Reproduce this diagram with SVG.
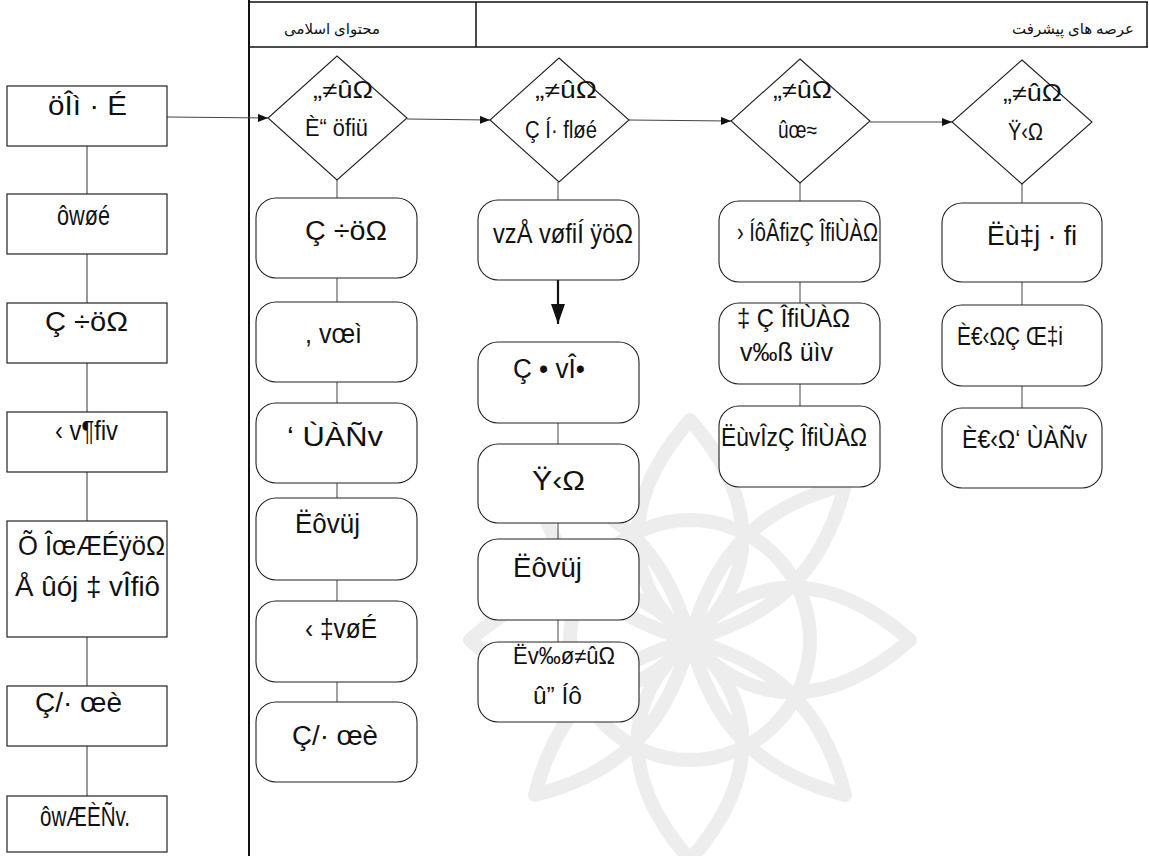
<svg xmlns="http://www.w3.org/2000/svg" width="1149" height="856" viewBox="0 0 1149 856">
<style>
.box{fill:#fff;stroke:#222;stroke-width:1.2}
.rbox{fill:#fff;stroke:#222;stroke-width:1.1}
.dia{fill:#fff;stroke:#222;stroke-width:1.1}
.t{font-family:"Liberation Sans",Arial,sans-serif;font-size:27px;fill:#111}
.tm{font-family:"Liberation Sans",Arial,sans-serif;font-size:25px;fill:#111}
.td{font-family:"Liberation Sans",Arial,sans-serif;font-size:23px;fill:#111}
.h{font-family:"Liberation Serif","DejaVu Sans",serif;font-size:15px;fill:#111}
.c{stroke:#777;stroke-width:1.5;fill:none}
.ct{stroke:#444;stroke-width:1;fill:none}
.wm{stroke:#ececec;stroke-width:14;fill:none;stroke-linecap:round}
</style>
<defs>
<marker id="ah" markerWidth="10" markerHeight="8" refX="10" refY="4" orient="auto" markerUnits="userSpaceOnUse">
<path d="M0,0 L10,4 L0,8 Z" fill="#111"/>
</marker>
<marker id="ahb" markerWidth="14" markerHeight="20" refX="7" refY="20" orient="0" markerUnits="userSpaceOnUse">
<path d="M0,0 L14,0 L7,20 Z" fill="#111"/>
</marker>
</defs>
<rect width="1149" height="856" fill="#fff"/>
<g id="watermark" opacity="0.9">
<path class="wm" d="M690,420 C620,500 620,580 690,640 C760,580 760,500 690,420"/>
<path class="wm" d="M690,860 C620,780 620,700 690,640 C760,700 760,780 690,860"/>
<path class="wm" d="M470,640 C550,570 630,570 690,640 C630,710 550,710 470,640"/>
<path class="wm" d="M910,640 C830,570 750,570 690,640 C750,710 830,710 910,640"/>
<path class="wm" d="M535,485 C560,585 620,620 690,640 C670,570 635,510 535,485"/>
<path class="wm" d="M845,485 C820,585 760,620 690,640 C710,570 745,510 845,485"/>
<path class="wm" d="M535,795 C560,695 620,660 690,640 C670,710 635,770 535,795"/>
<path class="wm" d="M845,795 C820,695 760,660 690,640 C710,710 745,770 845,795"/>
<circle class="wm" cx="690" cy="640" r="120" stroke-width="10"/>
</g>
<g id="header">
<line x1="249" y1="2" x2="1148" y2="2" stroke="#111" stroke-width="1.5"/>
<line x1="249" y1="47" x2="1148" y2="47" stroke="#111" stroke-width="1.5"/>
<line x1="476" y1="2" x2="476" y2="47" stroke="#111" stroke-width="1.5"/>
<line x1="1147" y1="2" x2="1147" y2="47" stroke="#111" stroke-width="1.5"/>
<line x1="249" y1="0" x2="249" y2="856" stroke="#111" stroke-width="2"/>
<text class="h" x="332" y="34" text-anchor="middle">محتوای اسلامی</text>
<text class="h" x="1134" y="34" text-anchor="end">عرصه های پیشرفت</text>
</g>
<g id="connectors">
<line class="c" x1="87" y1="146" x2="87" y2="194"/>
<line class="c" x1="87" y1="254" x2="87" y2="303"/>
<line class="c" x1="87" y1="363" x2="87" y2="412"/>
<line class="c" x1="87" y1="472" x2="87" y2="521"/>
<line class="c" x1="87" y1="637" x2="87" y2="686"/>
<line class="c" x1="87" y1="746" x2="87" y2="796"/>
<line class="ct" x1="167" y1="117" x2="268" y2="118" marker-end="url(#ah)"/>
<line class="ct" x1="407" y1="119" x2="490" y2="120" marker-end="url(#ah)"/>
<line class="ct" x1="629" y1="120" x2="731" y2="121" marker-end="url(#ah)"/>
<line class="ct" x1="870" y1="122" x2="952" y2="122" marker-end="url(#ah)"/>
<line class="ct" x1="337" y1="180" x2="337" y2="198"/>
<line class="ct" x1="337" y1="278" x2="337" y2="302"/>
<line class="ct" x1="337" y1="382" x2="337" y2="403"/>
<line class="ct" x1="337" y1="483" x2="337" y2="498"/>
<line class="ct" x1="337" y1="580" x2="337" y2="601"/>
<line class="ct" x1="337" y1="682" x2="337" y2="702"/>
<line class="ct" x1="558" y1="182" x2="558" y2="200"/>
<line x1="558" y1="280" x2="558" y2="324" stroke="#111" stroke-width="2.2" marker-end="url(#ahb)"/>
<line class="ct" x1="558" y1="423" x2="558" y2="444"/>
<line class="ct" x1="558" y1="523" x2="558" y2="539"/>
<line class="ct" x1="558" y1="620" x2="558" y2="642"/>
<line class="ct" x1="800" y1="183" x2="800" y2="201"/>
<line class="ct" x1="800" y1="282" x2="800" y2="303"/>
<line class="ct" x1="800" y1="384" x2="800" y2="406"/>
<line class="ct" x1="1022" y1="184" x2="1022" y2="203"/>
<line class="ct" x1="1022" y1="282" x2="1022" y2="305"/>
<line class="ct" x1="1022" y1="386" x2="1022" y2="408"/>
</g>
<g id="L1"><rect class="box" x="7" y="86" width="160" height="60"/><text class="t" x="48" y="115" textLength="79" lengthAdjust="spacingAndGlyphs">öÎì · É</text></g>
<g id="L2"><rect class="box" x="7" y="194" width="160" height="60"/><text class="t" x="57" y="225" textLength="53" lengthAdjust="spacingAndGlyphs">ôwøé</text></g>
<g id="L3"><rect class="box" x="7" y="303" width="160" height="60"/><text class="t" x="45" y="331" textLength="83" lengthAdjust="spacingAndGlyphs">Ç ÷öΩ</text></g>
<g id="L4"><rect class="box" x="7" y="412" width="160" height="60"/><text class="t" x="55" y="440" textLength="63" lengthAdjust="spacingAndGlyphs">‹ v¶ﬁv</text></g>
<g id="L5"><rect class="box" x="7" y="521" width="160" height="116"/><text class="t" x="18" y="555" textLength="147" lengthAdjust="spacingAndGlyphs">Õ ÎœÆÉÿöΩ</text><text class="t" x="15" y="596" textLength="145" lengthAdjust="spacingAndGlyphs">Å ûój ‡ vÎﬁô</text></g>
<g id="L6"><rect class="box" x="7" y="686" width="160" height="60"/><text class="t" x="35" y="712" textLength="87" lengthAdjust="spacingAndGlyphs">Ç/· œè</text></g>
<g id="L7"><rect class="box" x="7" y="796" width="160" height="56"/><text class="t" x="40" y="826" textLength="90" lengthAdjust="spacingAndGlyphs">ôwÆÈÑv.</text></g>
<g id="D1"><polygon class="dia" points="337,56 407,118 337,180 268,118"/><text class="td" x="313" y="98" textLength="60" lengthAdjust="spacingAndGlyphs">„≠ûΩ</text><text class="td" x="305" y="136" textLength="63" lengthAdjust="spacingAndGlyphs">È“ öﬁü</text></g>
<g id="D2"><polygon class="dia" points="559,58 629,120 559,182 490,120"/><text class="td" x="535" y="98" textLength="62" lengthAdjust="spacingAndGlyphs">„≠ûΩ</text><text class="td" x="525" y="138" textLength="72" lengthAdjust="spacingAndGlyphs">Ç Í· ﬂøé</text></g>
<g id="D3"><polygon class="dia" points="800,59 870,121 800,183 731,121"/><text class="td" x="773" y="98" textLength="59" lengthAdjust="spacingAndGlyphs">„≠ûΩ</text><text class="td" x="778" y="138" textLength="39" lengthAdjust="spacingAndGlyphs">ûœ≈</text></g>
<g id="D4"><polygon class="dia" points="1022,60 1092,122 1022,184 952,122"/><text class="td" x="1003" y="101" textLength="59" lengthAdjust="spacingAndGlyphs">„≠ûΩ</text><text class="td" x="1008" y="140" textLength="35" lengthAdjust="spacingAndGlyphs">Ÿ‹Ω</text></g>
<g id="A1"><rect class="rbox" x="256" y="198" width="161" height="80" rx="20"/><text class="t" x="305" y="240" textLength="82" lengthAdjust="spacingAndGlyphs">Ç ÷öΩ</text></g>
<g id="A2"><rect class="rbox" x="256" y="302" width="161" height="80" rx="20"/><text class="t" x="305" y="343" textLength="57" lengthAdjust="spacingAndGlyphs">, vœì</text></g>
<g id="A3"><rect class="rbox" x="256" y="403" width="161" height="80" rx="20"/><text class="t" x="287" y="446" textLength="96" lengthAdjust="spacingAndGlyphs">‘ ÙÀÑv</text></g>
<g id="A4"><rect class="rbox" x="256" y="498" width="161" height="82" rx="20"/><text class="t" x="295" y="533" textLength="65" lengthAdjust="spacingAndGlyphs">Ëôvüj</text></g>
<g id="A5"><rect class="rbox" x="256" y="601" width="161" height="81" rx="20"/><text class="t" x="305" y="638" textLength="72" lengthAdjust="spacingAndGlyphs">‹ ‡vøÉ</text></g>
<g id="A6"><rect class="rbox" x="256" y="702" width="161" height="80" rx="20"/><text class="t" x="292" y="745" textLength="86" lengthAdjust="spacingAndGlyphs">Ç/· œè</text></g>
<g id="B1"><rect class="rbox" x="478" y="200" width="161" height="80" rx="20"/><text class="t" x="493" y="243" textLength="140" lengthAdjust="spacingAndGlyphs">vzÅ vøﬁÍ ÿöΩ</text></g>
<g id="B2"><rect class="rbox" x="478" y="342" width="161" height="81" rx="20"/><text class="t" x="513" y="378" textLength="72" lengthAdjust="spacingAndGlyphs">Ç • vÎ•</text></g>
<g id="B3"><rect class="rbox" x="478" y="444" width="161" height="79" rx="20"/><text class="t" x="532" y="490" textLength="53" lengthAdjust="spacingAndGlyphs">Ÿ‹Ω</text></g>
<g id="B4"><rect class="rbox" x="478" y="539" width="161" height="81" rx="20"/><text class="t" x="513" y="577" textLength="69" lengthAdjust="spacingAndGlyphs">Ëôvüj</text></g>
<g id="B5"><rect class="rbox" x="478" y="642" width="161" height="80" rx="20"/><text class="td" x="513" y="664" textLength="102" lengthAdjust="spacingAndGlyphs">Ëv‰ø≠ûΩ</text><text class="td" x="533" y="704" textLength="49" lengthAdjust="spacingAndGlyphs">û” Íô</text></g>
<g id="C1"><rect class="rbox" x="719" y="201" width="161" height="81" rx="20"/><text class="tm" x="737" y="241" textLength="141" lengthAdjust="spacingAndGlyphs">› ÍôÂﬁzÇ ÎﬁÙÀΩ</text></g>
<g id="C2"><rect class="rbox" x="719" y="303" width="161" height="81" rx="20"/><text class="tm" x="737" y="327" textLength="113" lengthAdjust="spacingAndGlyphs">‡ Ç ÎﬁÙÀΩ</text><text class="tm" x="740" y="361" textLength="93" lengthAdjust="spacingAndGlyphs">v‰ß üìv</text></g>
<g id="C3"><rect class="rbox" x="719" y="406" width="161" height="81" rx="20"/><text class="tm" x="721" y="446" textLength="146" lengthAdjust="spacingAndGlyphs">ËùvÎzÇ ÎﬁÙÀΩ</text></g>
<g id="E1"><rect class="rbox" x="942" y="203" width="160" height="79" rx="20"/><text class="t" x="987" y="245" textLength="90" lengthAdjust="spacingAndGlyphs">Ëù‡j · ﬁ</text></g>
<g id="E2"><rect class="rbox" x="942" y="305" width="160" height="81" rx="20"/><text class="tm" x="957" y="345" textLength="106" lengthAdjust="spacingAndGlyphs">È€‹ΩÇ Œ‡i</text></g>
<g id="E3"><rect class="rbox" x="942" y="408" width="160" height="80" rx="20"/><text class="tm" x="962" y="448" textLength="125" lengthAdjust="spacingAndGlyphs">È€‹Ω‘ ÙÀÑv</text></g>
</svg>
